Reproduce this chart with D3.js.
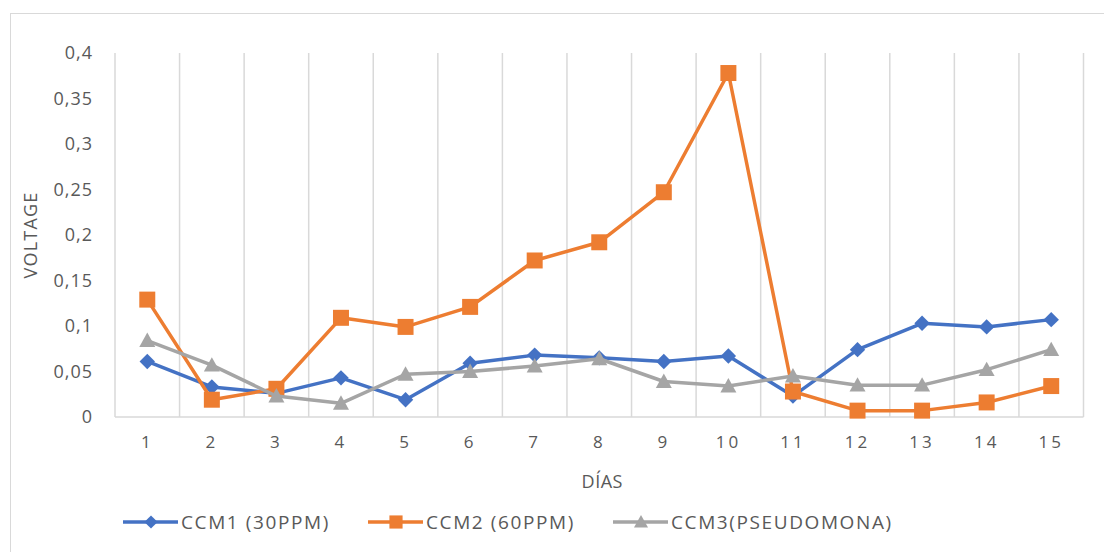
<!DOCTYPE html>
<html><head><meta charset="utf-8">
<script src="https://cdn.jsdelivr.net/npm/d3@7"></script>
<style>body{margin:0;background:#fff;} text{font-family:"Open Sans",sans-serif;fill:#595959;}</style>
</head><body><svg id="c" width="1104" height="552"></svg>
<script>
const days = ["1","2","3","4","5","6","7","8","9","10","11","12","13","14","15"];
const ccm1 = [0.061,0.033,0.026,0.043,0.019,0.059,0.068,0.065,0.061,0.067,0.023,0.074,0.103,0.099,0.107];
const ccm2 = [0.129,0.019,0.031,0.109,0.099,0.121,0.172,0.192,0.247,0.378,0.028,0.007,0.007,0.016,0.034];
const ccm3 = [0.084,0.057,0.023,0.015,0.047,0.050,0.056,0.064,0.039,0.034,0.045,0.035,0.035,0.052,0.074];
const seriesNames = ["CCM1 (30PPM)","CCM2 (60PPM)","CCM3(PSEUDOMONA)"];
const yTicks = [0,0.05,0.1,0.15,0.2,0.25,0.3,0.35,0.4];
const yTickLabels = ["0","0,05","0,1","0,15","0,2","0,25","0,3","0,35","0,4"];

const svg = d3.select("#c");
const L=115, R=1083.5, T=53, B=417;
// outer border
svg.append("rect").attr("x",10.5).attr("y",13.5).attr("width",1200).attr("height",600)
  .attr("fill","none").attr("stroke","#d9d9d9").attr("stroke-width",1);

const x = d3.scaleBand().domain(days).range([L,R]).padding(0);
const y = d3.scaleLinear().domain([0,0.4]).range([B,T]);

// vertical gridlines at category boundaries
const g = svg.append("g");
const bounds = days.map(d=>x(d)).concat([R]);
g.selectAll("line.v").data(bounds).join("line")
  .attr("x1",d=>d).attr("x2",d=>d).attr("y1",T).attr("y2",B)
  .attr("stroke","#d9d9d9").attr("stroke-width",1.5);
// bottom axis
g.append("line").attr("x1",L).attr("x2",R).attr("y1",B).attr("y2",B).attr("stroke","#d9d9d9").attr("stroke-width",1.5);

// y axis labels
const ya = svg.append("g").attr("transform",`translate(${L},0)`)
  .call(d3.axisLeft(y).tickValues(yTicks).tickFormat((d,i)=>yTickLabels[i]).tickSize(0).tickPadding(22));
ya.select(".domain").remove();
ya.selectAll("text").style("font-family","Open Sans").style("font-size","18px").attr("fill","#595959").style("letter-spacing","1px");

// x axis labels
const xa = svg.append("g").attr("transform",`translate(0,${B})`)
  .call(d3.axisBottom(x).tickSize(0).tickPadding(19));
xa.select(".domain").remove();
xa.selectAll("text").style("font-family","Open Sans").style("font-size","17px").attr("fill","#595959").style("letter-spacing","3px");

// axis titles
svg.append("text").attr("x",(L+R)/2+3).attr("y",488).attr("text-anchor","middle")
  .style("font-size","18px").style("letter-spacing","0.5px").text("DÍAS");
svg.append("text").attr("transform",`translate(37,${(T+B)/2}) rotate(-90)`).attr("text-anchor","middle")
  .style("font-size","18px").style("letter-spacing","1.2px").text("VOLTAGE");

const colors = ["#4472C4","#ED7D31","#A5A5A5"];
const data = [ccm1,ccm2,ccm3];
const cx = d=>x(d)+x.bandwidth()/2;
const line = d3.line().x((d,i)=>cx(days[i])).y(d=>y(d));

function marker(sel, k, size){
  if(k===0){ const s=size*0.55; sel.append("path").attr("d",`M0,${-s}L${s},0L0,${s}L${-s},0Z`); }
  else if(k===1){ const s=size*0.47; sel.append("rect").attr("x",-s).attr("y",-s).attr("width",2*s).attr("height",2*s); }
  else { const s=size*0.5; sel.append("path").attr("d",`M0,${-s*1.0}L${s},${s*0.8}L${-s},${s*0.8}Z`); }
}

data.forEach((vals,k)=>{
  svg.append("path").datum(vals).attr("d",line).attr("fill","none")
    .attr("stroke",colors[k]).attr("stroke-width",3.5).attr("stroke-linejoin","round");
  const mg = svg.append("g").attr("fill",colors[k]);
  vals.forEach((v,i)=>{
    const m = mg.append("g").attr("transform",`translate(${cx(days[i])},${y(v)})`);
    marker(m,k,k===1?17:(k===0?14:16));
  });
});

// legend
const legX = [123,368,613];
const legY = 522;
seriesNames.forEach((n,k)=>{
  const lg = svg.append("g");
  lg.append("line").attr("x1",legX[k]).attr("x2",legX[k]+55).attr("y1",legY).attr("y2",legY)
    .attr("stroke",colors[k]).attr("stroke-width",3.5);
  const m = lg.append("g").attr("fill",colors[k]).attr("transform",`translate(${legX[k]+28},${legY})`);
  marker(m,k,k===1?14:(k===0?12:14));
  lg.append("text").attr("x",legX[k]+58).attr("y",legY).attr("dy","0.35em")
    .style("font-size","19px").style("letter-spacing","1.6px").text(n);
});
</script></body></html>
